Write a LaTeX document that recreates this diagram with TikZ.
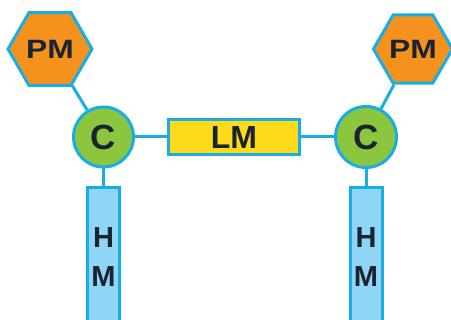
\documentclass[tikz,border=0pt]{standalone}
\usepackage{fontspec}
\setmainfont{Liberation Sans}
\usetikzlibrary{shapes.geometric}
\definecolor{bordc}{HTML}{19ADE6}
\definecolor{orangec}{HTML}{F5921E}
\definecolor{greenc}{HTML}{8CC63F}
\definecolor{yellowc}{HTML}{FFDA1A}
\definecolor{lbluec}{HTML}{8FD6F6}
\definecolor{textc}{HTML}{1A2330}
\tikzset{
  base/.style={draw=bordc, line width=3pt, inner sep=0pt, text=textc},
  hexa/.style={base, regular polygon, regular polygon sides=6, fill=orangec,
    font=\bfseries\fontsize{26.5}{30}\selectfont},
  cnode/.style={base, circle, fill=greenc, font=\bfseries\fontsize{35}{40}\selectfont},
  lmbox/.style={base, rectangle, fill=yellowc, minimum width=131pt, minimum height=35pt,
    font=\bfseries\fontsize{32}{36}\selectfont},
  hmbox/.style={base, rectangle, fill=lbluec, minimum width=32pt, minimum height=138pt,
    align=center, font=\bfseries\fontsize{29}{39}\selectfont},
  link/.style={draw=bordc, line width=3pt}
}
\begin{document}
\begin{tikzpicture}[x=1pt,y=-1pt]
\clip (0,0) rectangle (451,320);
\node[hexa, minimum size=84pt] (pm1) at (50,49) {\scalebox{1.2}[1]{PM}};
\node[hexa, minimum size=79pt] (pm2) at (413,49) {\scalebox{1.2}[1]{PM}};
\node[cnode, minimum size=60pt] (c1) at (103.5,137) {C};
\node[cnode, minimum size=61pt] (c2) at (366,137) {C};
\node[lmbox] (lm) at (234,137) {LM};
\node[hmbox] (hm1) at (103.5,257) {H\\M};
\node[hmbox] (hm2) at (366,257) {H\\M};
\draw[link] (pm1) -- (c1);
\draw[link] (pm2) -- (c2);
\draw[link] (c1) -- (lm);
\draw[link] (lm) -- (c2);
\draw[link] (c1) -- (hm1);
\draw[link] (c2) -- (hm2);
\end{tikzpicture}
\end{document}
